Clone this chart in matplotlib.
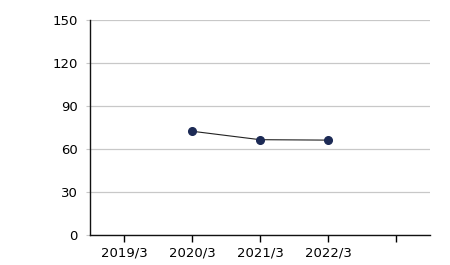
import matplotlib
matplotlib.use("Agg")
import matplotlib.pyplot as plt
import numpy as np

categories = ["2019/3", "2020/3", "2021/3", "2022/3", ""]
values = [np.nan, 72.4, 66.5, 66.2, np.nan]
yticks = [0, 30, 60, 90, 120, 150]

plt.rcParams['font.family'] = ['DejaVu Sans']
fig = plt.figure(figsize=(4.5, 2.65), dpi=100)
ax = fig.add_axes([90/450, 30/265, 340/450, 215/265])
x = np.arange(len(categories))
ax.plot(x, values, color="#222222", lw=0.8, marker="o", ms=5.5,
        markerfacecolor="#1c2a55", markeredgecolor="#1c2a55", zorder=3)
ax.set_xlim(-0.5, len(categories) - 0.5)
ax.set_ylim(0, 150)
ax.set_yticks(yticks)
ax.set_yticklabels([str(v) for v in yticks], fontsize=9.5)
ax.set_xticks(x)
ax.set_xticklabels(categories, fontsize=9.5)
ax.yaxis.grid(True, color="#c8c8c8", lw=0.9)
ax.set_axisbelow(True)
for s in ["top", "right"]:
    ax.spines[s].set_visible(False)
for s in ["left", "bottom"]:
    ax.spines[s].set_linewidth(1.0)
    ax.spines[s].set_color("#111111")
ax.tick_params(axis="y", length=3, width=0.8, pad=6, color="#c8c8c8")
ax.tick_params(axis="x", length=5, width=1.0, pad=3)
fig.savefig("out.png", dpi=100)
